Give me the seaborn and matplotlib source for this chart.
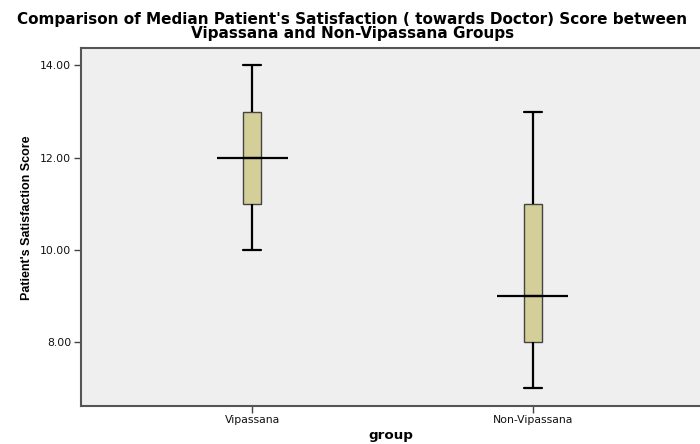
import pandas as pd
import matplotlib.pyplot as plt
import seaborn as sns
import numpy as np
from matplotlib import font_manager

# five-number summaries (min, Q1, median, Q3, max)
groups = ['Vipassana', 'Non-Vipassana']
vipassana_scores = [10, 11, 12, 13, 14]
non_vipassana_scores = [7, 8, 9, 11, 13]
medians = [12, 9]
y_ticks = [8, 10, 12, 14]

df = pd.DataFrame({
    'group': [groups[0]] * len(vipassana_scores) + [groups[1]] * len(non_vipassana_scores),
    'score': vipassana_scores + non_vipassana_scores,
})

sns.set_style('white')
plt.rcParams['font.family'] = ['DejaVu Sans']
plt.rcParams['text.color'] = 'black'

# narrow font for the y label if one is around
names = set(f.name for f in font_manager.fontManager.ttflist)
narrow = None
for cand in ['Liberation Sans Narrow', 'DejaVu Sans Condensed', 'Arial Narrow']:
    if cand in names:
        narrow = cand
        break

fig = plt.figure(figsize=(7, 4.44), dpi=100)
ax = fig.add_axes([81/700, 1 - 405.7/444, 1 - 81/700, (405.7 - 47.7)/444])
ax.set_facecolor('#efefef')

sns.boxplot(data=df, x='group', y='score', order=groups, width=0.064, whis=1.5,
            color='#d4cf98', linecolor='#333333', linewidth=1, ax=ax,
            whiskerprops=dict(color='black', linewidth=1.6),
            capprops=dict(color='black', linewidth=1.6),
            medianprops=dict(color='black', linewidth=1.6),
            boxprops=dict(edgecolor='#444444', linewidth=1, facecolor='#d4cf98'),
            capwidths=0.064)

# SPSS style median bar, wider than the box
pos = np.arange(len(groups))
ax.hlines(medians, pos - 0.1265, pos + 0.1265, color='black', linewidth=1.6, zorder=5)

ax.set_xlim(-0.611, 1.597)
ax.set_ylim(6.618, 14.386)
ax.set_yticks(y_ticks)
ax.set_yticklabels(['%.2f' % t for t in y_ticks], fontsize=7.8, color='#111111')
ax.set_xticks(pos)
ax.set_xticklabels(groups, fontsize=7.8, color='#111111')
ax.tick_params(axis='both', direction='out', length=5, width=1, color='#444444', pad=2, left=True, bottom=True)

for side in ['left', 'bottom', 'top']:
    ax.spines[side].set_color('#555555')
    ax.spines[side].set_linewidth(1.5)
ax.spines['right'].set_visible(False)

ax.set_xlabel('group', fontsize=9.7, fontweight='bold', color='black')
ax.xaxis.label.set_va('center')
ax.xaxis.set_label_coords(0.5, -0.083)

if narrow:
    ax.set_ylabel("Patient's Satisfaction Score", fontsize=10.5, fontweight='bold', family=narrow, color='black')
else:
    ax.set_ylabel("Patient's Satisfaction Score", fontsize=9, fontweight='bold',
                  family='Liberation Sans', color='black')
ax.yaxis.label.set_va('center')
ax.yaxis.set_label_coords(-0.0872, 0.524)

fig.text(0.503, 0.972, "Comparison of Median Patient's Satisfaction ( towards Doctor) Score between\nVipassana and Non-Vipassana Groups",
         ha='center', va='top', fontsize=11, fontweight='bold', linespacing=0.88, color='black')

fig.savefig('out.png', dpi=100)
